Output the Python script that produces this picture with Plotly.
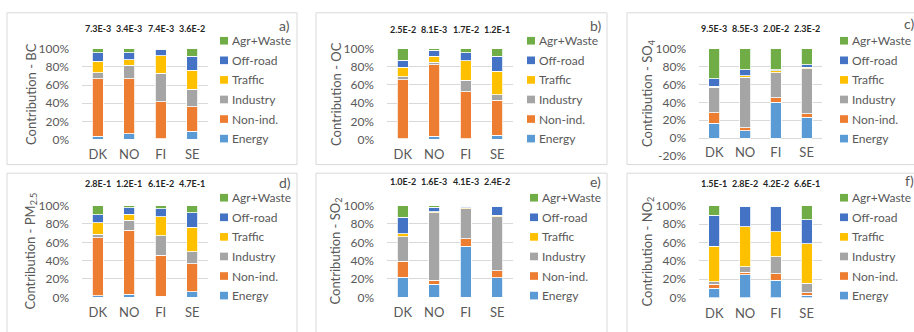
import plotly.graph_objects as go

W, H = 914, 332

COUNTRIES = ["DK", "NO", "FI", "SE"]
SOURCES = ["Energy", "Non-ind.", "Industry", "Traffic", "Off-road", "Agr+Waste"]
COLORS = ["#5B9BD5", "#ED7D31", "#A5A5A5", "#FFC000", "#4472C4", "#70AD47"]

# Percentage contribution per source (rows follow SOURCES, columns follow COUNTRIES)
BC = [
    [3.5, 6.3, 1.0, 9.1],
    [63.5, 60.7, 40.4, 27.0],
    [6.7, 14.8, 31.6, 19.3],
    [12.6, 5.9, 19.3, 21.1],
    [9.5, 8.1, 7.0, 15.1],
    [4.2, 4.2, 0.7, 8.4],
]
OC = [
    [1.0, 3.5, 1.0, 4.5],
    [64.7, 78.7, 51.4, 38.5],
    [3.5, 2.8, 12.6, 6.0],
    [10.5, 6.3, 21.7, 26.2],
    [7.7, 6.6, 8.8, 16.1],
    [12.6, 2.1, 4.5, 8.7],
]
SO4 = [
    [16.4, 8.2, 40.4, 23.2],
    [12.2, 3.6, 4.6, 3.9],
    [28.5, 56.1, 28.2, 50.8],
    [0.8, 2.1, 2.2, 1.4],
    [8.5, 6.8, 1.4, 2.8],
    [33.6, 23.2, 23.2, 17.9],
]
PM25 = [
    [1.7, 3.5, 1.0, 6.3],
    [63.5, 69.7, 45.0, 30.3],
    [3.8, 11.1, 20.9, 12.9],
    [12.2, 6.3, 20.9, 27.2],
    [8.7, 7.0, 8.7, 15.6],
    [10.1, 2.4, 3.5, 7.7],
]
SO2 = [
    [21.9, 14.2, 55.9, 21.2],
    [17.7, 4.2, 8.0, 8.0],
    [26.7, 74.0, 32.6, 58.6],
    [2.8, 1.0, 1.1, 1.8],
    [18.1, 4.9, 1.7, 9.7],
    [12.8, 1.7, 0.7, 0.7],
]
NO2 = [
    [10.0, 24.9, 19.0, 2.4],
    [4.5, 2.4, 7.0, 2.8],
    [2.5, 6.3, 18.6, 10.4],
    [39.1, 43.2, 27.0, 42.9],
    [33.5, 22.5, 27.7, 26.3],
    [10.4, 0.7, 0.7, 15.2],
]

# Totals printed above each bar
BC_TOTAL = ["7.3E-3", "3.4E-3", "7.4E-3", "3.6E-2"]
OC_TOTAL = ["2.5E-2", "8.1E-3", "1.7E-2", "1.2E-1"]
SO4_TOTAL = ["9.5E-3", "8.5E-3", "2.0E-2", "2.3E-2"]
PM25_TOTAL = ["2.8E-1", "1.2E-1", "6.1E-2", "4.7E-1"]
SO2_TOTAL = ["1.0E-2", "1.6E-3", "4.1E-3", "2.4E-2"]
NO2_TOTAL = ["1.5E-1", "2.8E-2", "4.2E-2", "6.6E-1"]

FONT = "Lato"
GREY = "#595959"
GRID = "#D9D9D9"


def px(x):
    return x / W


def py(y):
    return 1 - y / H


# name, data, totals, letter, frame (l, t, r, b), plot area (l, t, r, b), y range,
# y-title centre, legend column x, legend first row y, totals y, letter position
panels = [
    ("Contribution - BC", BC, BC_TOTAL, "a)", (7, 5, 297, 164), (82, 42.7, 208, 137.7), (0, 100),
     (31, 90), 220, 34.3, 21, (284, 18)),
    ("Contribution - OC", OC, OC_TOTAL, "b)", (316, 5, 607, 164), (387, 42.5, 513, 137.7), (0, 100),
     (336, 90), 527, 34.3, 23, (595, 18)),
    ("Contribution - SO<sub>4</sub>", SO4, SO4_TOTAL, "c)", (627, 5, 920, 164), (699, 42.7, 822, 155), (-20, 100),
     (648, 89), 840, 34.3, 21, (909, 16)),
    ("Contribution - PM<sub>2.5</sub>", PM25, PM25_TOTAL, "d)", (7, 173, 297, 340), (82, 207, 208, 303), (0, 100),
     (31, 255), 220, 198.7, 184, (285, 183)),
    ("Contribution - SO<sub>2</sub>", SO2, SO2_TOTAL, "e)", (316, 173, 607, 340), (387, 207, 513, 303), (0, 100),
     (336, 255), 530, 198.7, 182, (595, 182)),
    ("Contribution - NO<sub>2</sub>", NO2, NO2_TOTAL, "f)", (627, 173, 920, 340), (699, 207, 822, 303.3), (0, 100),
     (648, 255), 840, 198.7, 184, (909, 181)),
]

fig = go.Figure()
shapes = []
annotations = []
LEG_STEP = 20.5
SQ = 8

for i, (ytitle, data, totals, letter, frame, area, yr, tpos, legx, legy, toty, lpos) in enumerate(panels):
    n = i + 1
    xa = "x" if n == 1 else f"x{n}"
    ya = "y" if n == 1 else f"y{n}"
    for s, name in enumerate(SOURCES):
        fig.add_trace(go.Bar(
            x=COUNTRIES, y=data[s], name=name, xaxis=xa, yaxis=ya,
            marker=dict(color=COLORS[s], line=dict(color="white", width=0.8)),
            showlegend=False,
        ))
    l, t, r, b = area
    xkey = "xaxis" if n == 1 else f"xaxis{n}"
    ykey = "yaxis" if n == 1 else f"yaxis{n}"
    label_standoff = 6 if yr[0] == 0 else -13
    yticks = list(range(yr[0], 101, 20))
    fig.update_layout(**{
        xkey: dict(domain=[px(l), px(r)], anchor=ya, showgrid=False, showline=False,
                   zeroline=False, ticks="", tickfont=dict(family=FONT, size=13, color=GREY),
                   ticklabelstandoff=label_standoff, fixedrange=True),
        ykey: dict(domain=[py(b), py(t)], anchor=xa, range=list(yr),
                   tickmode="array", tickvals=yticks, ticktext=[f"{v}%" for v in yticks],
                   showgrid=True, gridcolor=GRID, gridwidth=1, zeroline=False,
                   showline=False, ticks="", ticklabelstandoff=12,
                   tickfont=dict(family=FONT, size=12, color=GREY), fixedrange=True),
    })
    # panel frame
    fl, ft, fr, fb = frame
    shapes.append(dict(type="rect", xref="paper", yref="paper",
                       x0=px(fl), x1=px(fr), y0=py(fb), y1=py(ft),
                       line=dict(color=GRID, width=1), layer="below"))
    # y-axis title
    annotations.append(dict(text=ytitle, xref="paper", yref="paper", x=px(tpos[0]), y=py(tpos[1]),
                            textangle=-90, showarrow=False, xanchor="center", yanchor="middle",
                            font=dict(family=FONT, size=13, color=GREY)))
    # totals above bars
    for c, tot in zip(COUNTRIES, totals):
        annotations.append(dict(text=f"<b>{tot}</b>", xref=xa, yref="paper", x=c, y=py(toty),
                                showarrow=False, xanchor="center", yanchor="middle",
                                font=dict(family=FONT, size=9, color="#262626")))
    # panel letter
    annotations.append(dict(text=letter, xref="paper", yref="paper", x=px(lpos[0]), y=py(lpos[1]),
                            showarrow=False, xanchor="center", yanchor="middle",
                            font=dict(family=FONT, size=14, color=GREY)))
    # legend, top entry = last source
    for k, s in enumerate(reversed(range(len(SOURCES)))):
        cy = legy + k * LEG_STEP
        shapes.append(dict(type="rect", xref="paper", yref="paper",
                           x0=px(legx), x1=px(legx + SQ), y0=py(cy + SQ / 2), y1=py(cy - SQ / 2),
                           fillcolor=COLORS[s], line=dict(width=0)))
        annotations.append(dict(text=SOURCES[s], xref="paper", yref="paper",
                                x=px(legx + SQ + 2), y=py(cy), showarrow=False,
                                xanchor="left", yanchor="middle",
                                font=dict(family=FONT, size=12, color=GREY)))

fig.update_layout(
    barmode="stack", bargap=0.64,
    width=W, height=H, margin=dict(l=0, r=0, t=0, b=0),
    paper_bgcolor="white", plot_bgcolor="white",
    shapes=shapes, annotations=annotations,
    font=dict(family=FONT, color=GREY),
)

fig.write_html("out.html")
